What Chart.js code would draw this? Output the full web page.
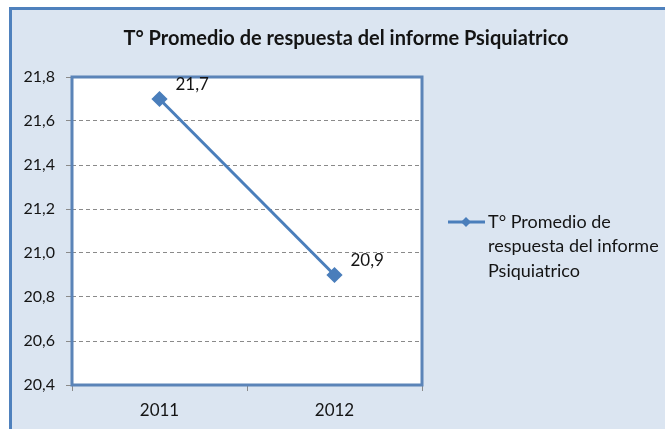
<!DOCTYPE html>
<html>
<head>
<meta charset="utf-8">
<script src="https://cdn.jsdelivr.net/npm/chart.js@4/dist/chart.umd.min.js"></script>
<style>
  html, body { margin: 0; padding: 0; background: #fff; overflow: hidden; }
  #wrap { position: relative; width: 665px; height: 429px; overflow: hidden; }
  #frame {
    position: absolute; left: 9px; top: 7px; width: 700px; height: 500px;
    background: #dbe5f1; border: 3px solid #4f81bd;
  }
  #chart { position: absolute; left: 0; top: 0; }
</style>
</head>
<body>
<div id="wrap">
  <div id="frame"></div>
  <canvas id="chart" width="665" height="429"></canvas>
</div>
<script>
// Datos del gráfico
const categorias = ['2011', '2012'];
const promedio = [21.7, 20.9];
const titulo = 'T° Promedio de respuesta del informe Psiquiatrico';
const leyenda = ['T° Promedio de', 'respuesta del informe', 'Psiquiatrico'];
const yMin = 20.4;
const yMax = 21.8;
const yPaso = 0.2;

const azul = '#4a7ebb';
const texto = '#141414';
const fuente = 'Lato, "Noto Sans", sans-serif';
const coma = v => v.toFixed(1).replace('.', ',');

// Fondo blanco del área, borde, título, etiquetas y leyenda
const decoracion = {
    id: 'decoracion',
    beforeDraw(chart) {
        const { ctx, chartArea: a } = chart;
        ctx.save();
        ctx.fillStyle = '#ffffff';
        ctx.fillRect(a.left, a.top, a.right - a.left, a.bottom - a.top);
        ctx.restore();
    },
    afterDatasetsDraw(chart) {
        const { ctx, chartArea: a } = chart;
        ctx.save();
        ctx.strokeStyle = '#5b84b8';
        ctx.lineWidth = 3;
        ctx.strokeRect(a.left, a.top, a.right - a.left, a.bottom - a.top);

        // título
        ctx.fillStyle = texto;
        ctx.font = 'bold 20px ' + fuente;
        ctx.textAlign = 'center';
        ctx.textBaseline = 'middle';
        ctx.fillText(titulo, 346, 39);

        // etiquetas de datos
        ctx.font = '17px ' + fuente;
        ctx.textAlign = 'left';
        const meta = chart.getDatasetMeta(0);
        meta.data.forEach((p, i) => {
            ctx.fillText(coma(promedio[i]), p.x + 16, p.y - 14);
        });

        // leyenda
        const ly = 222;
        ctx.strokeStyle = azul;
        ctx.lineWidth = 3;
        ctx.beginPath();
        ctx.moveTo(448, ly);
        ctx.lineTo(485, ly);
        ctx.stroke();
        ctx.fillStyle = azul;
        ctx.beginPath();
        ctx.moveTo(466, ly - 5);
        ctx.lineTo(471, ly);
        ctx.lineTo(466, ly + 5);
        ctx.lineTo(461, ly);
        ctx.closePath();
        ctx.fill();
        ctx.fillStyle = texto;
        ctx.font = '18px ' + fuente;
        leyenda.forEach((t, i) => ctx.fillText(t, 488, ly + i * 24.5));
        ctx.restore();
    }
};

new Chart(document.getElementById('chart'), {
    type: 'line',
    data: {
        labels: categorias,
        datasets: [{
            label: leyenda.join(' '),
            data: promedio,
            borderColor: azul,
            backgroundColor: azul,
            borderWidth: 3,
            pointStyle: 'rectRot',
            pointRadius: 6,
            pointHoverRadius: 6,
            tension: 0
        }]
    },
    options: {
        responsive: false,
        animation: false,
        events: [],
        layout: { padding: { left: 0, right: 243, top: 77, bottom: 0 } },
        plugins: {
            legend: { display: false },
            title: { display: false },
            tooltip: { enabled: false }
        },
        scales: {
            x: {
                offset: true,
                grid: {
                    offset: true,
                    drawOnChartArea: false,
                    tickLength: 6,
                    color: '#8a8a8a'
                },
                border: { display: false },
                ticks: { color: texto, padding: 9, font: { family: fuente, size: 17 } },
                afterFit: s => { s.height = 44; }
            },
            y: {
                min: yMin,
                max: yMax,
                grid: {
                    color: '#8a8a8a',
                    tickBorderDash: [],
                    tickLength: 6,
                    tickColor: '#8a8a8a'
                },
                border: { display: false, dash: [4, 3] },
                ticks: {
                    stepSize: yPaso,
                    color: texto,
                    padding: 11,
                    font: { family: fuente, size: 16 },
                    callback: v => coma(v)
                },
                afterFit: s => { s.width = 72; }
            }
        }
    },
    plugins: [decoracion]
});
</script>
</body>
</html>
